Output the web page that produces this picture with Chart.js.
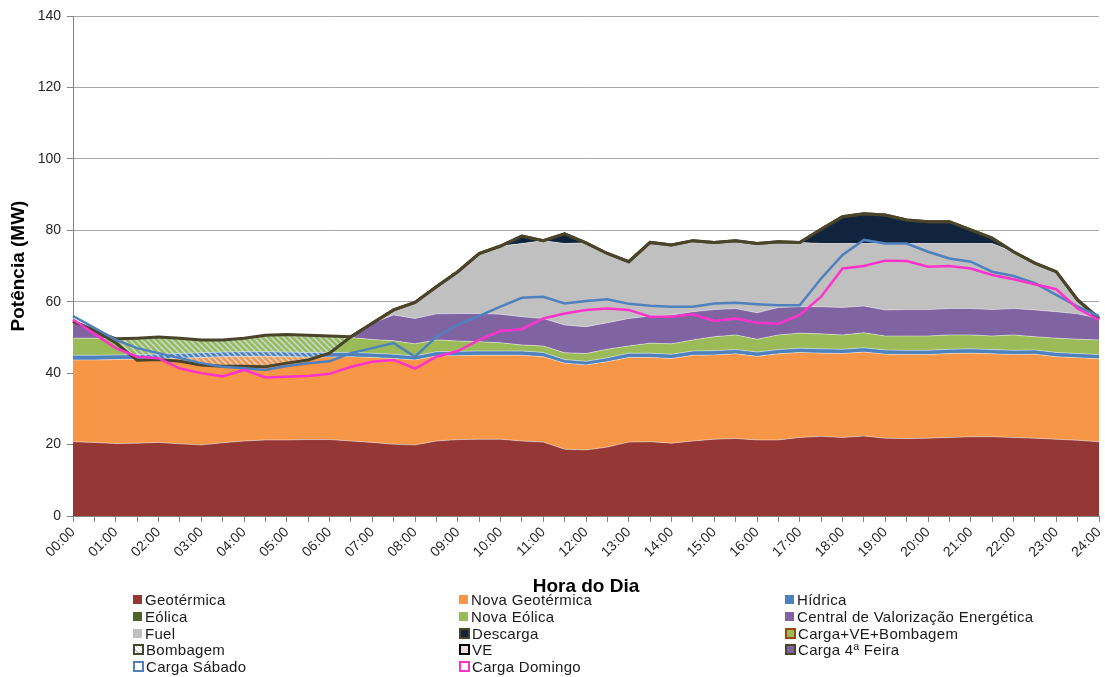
<!DOCTYPE html>
<html lang="pt">
<head>
<meta charset="utf-8">
<title>Potência por hora do dia</title>
<script src="https://cdn.jsdelivr.net/npm/chart.js@4.4.1/dist/chart.umd.min.js"></script>
<style>
  body { margin: 0; background: #fff; font-family: "Liberation Sans", Arial, sans-serif; }
  #wrap { position: relative; width: 1105px; height: 677px; }
  #legend { position: absolute; left: 0; top: 0; width: 1105px; height: 677px; pointer-events: none; }
  .item { position: absolute; display: flex; align-items: center; height: 17px; font-size: 15px; letter-spacing: 0.3px; color: #1a1a1a; white-space: nowrap; }
  .box { width: 9px; height: 9px; margin-right: 3px; box-sizing: border-box; }
</style>
</head>
<body>
<div id="wrap">
  <canvas id="chart" width="1105" height="677"></canvas>
  <div id="legend"></div>
</div>
<script>
const horas = ['00:00','00:30','01:00','01:30','02:00','02:30','03:00','03:30','04:00','04:30',
  '05:00','05:30','06:00','06:30','07:00','07:30','08:00','08:30','09:00','09:30',
  '10:00','10:30','11:00','11:30','12:00','12:30','13:00','13:30','14:00','14:30',
  '15:00','15:30','16:00','16:30','17:00','17:30','18:00','18:30','19:00','19:30',
  '20:00','20:30','21:00','21:30','22:00','22:30','23:00','23:30','24:00'];

// produção (MW), empilhada
const geotermica = [20.8, 20.6, 20.3, 20.4, 20.6, 20.2, 19.9, 20.5, 21.0, 21.3,
  21.3, 21.4, 21.4, 21.0, 20.6, 20.1, 19.9, 21.0, 21.4, 21.5,
  21.5, 21.0, 20.7, 18.7, 18.5, 19.3, 20.7, 20.8, 20.4, 21.0,
  21.5, 21.7, 21.3, 21.3, 22.0, 22.3, 22.0, 22.4, 21.8, 21.7,
  21.8, 22.0, 22.2, 22.2, 22.0, 21.8, 21.5, 21.2, 20.8];
const novaGeotermica = [22.9, 23.1, 23.5, 23.5, 23.4, 24.0, 24.5, 24.1, 23.7, 23.4,
  23.3, 23.1, 23.1, 23.6, 23.8, 24.0, 23.8, 23.8, 23.5, 23.5,
  23.5, 24.0, 23.9, 24.1, 23.8, 23.9, 23.7, 23.6, 23.7, 24.0,
  23.6, 23.7, 23.4, 24.1, 23.8, 23.3, 23.5, 23.5, 23.5, 23.5,
  23.4, 23.5, 23.4, 23.2, 23.2, 23.5, 23.1, 23.1, 23.2];
const hidrica = [1.3, 1.3, 1.3, 1.3, 1.3, 1.3, 1.3, 1.3, 1.3, 1.3,
  1.3, 1.3, 1.3, 1.2, 1.2, 1.2, 1.1, 1.2, 1.2, 1.2,
  1.2, 1.2, 1.2, 1.0, 1.0, 1.1, 1.2, 1.2, 1.2, 1.2,
  1.2, 1.2, 1.2, 1.2, 1.2, 1.2, 1.2, 1.2, 1.2, 1.2,
  1.2, 1.2, 1.2, 1.2, 1.2, 1.2, 1.2, 1.2, 1.2];
const eolica = [0, 0, 0, 0, 0, 0, 0, 0, 0, 0,
  0, 0, 0, 0, 0, 0, 0, 0, 0, 0,
  0, 0, 0, 0, 0, 0, 0, 0, 0, 0,
  0, 0, 0, 0, 0, 0, 0, 0, 0, 0,
  0, 0, 0, 0, 0, 0, 0, 0, 0];
const novaEolica = [4.8, 4.8, 4.5, 4.6, 4.8, 4.3, 3.6, 3.4, 3.8, 4.6,
  4.9, 4.8, 4.6, 4.2, 3.8, 3.8, 3.4, 3.3, 2.9, 2.6,
  2.3, 1.7, 1.8, 1.9, 2.2, 2.4, 2.0, 2.8, 2.9, 3.1,
  3.9, 4.1, 3.6, 4.1, 4.2, 4.2, 4.0, 4.2, 3.9, 4.0,
  4.0, 4.0, 3.9, 3.8, 4.3, 3.7, 4.0, 4.0, 4.1];
const valorizacao = [4.7, 2.2, 0, 0, 0, 0, 0, 0, 0, 0,
  0, 0, 0, 0.2, 4.6, 7.2, 7.1, 7.3, 7.7, 7.9,
  8.0, 7.9, 7.7, 7.8, 7.5, 7.4, 7.7, 7.6, 8.1, 7.9,
  7.6, 7.4, 7.4, 7.7, 7.4, 7.6, 7.7, 7.5, 7.3, 7.4,
  7.4, 7.4, 7.4, 7.4, 7.4, 7.5, 7.4, 7.1, 6.0];
const fuel = [0, 0, 0, 0, 0, 0, 0, 0, 0, 0,
  0, 0, 0, 0, 0, 1.4, 4.5, 7.6, 11.7, 16.8,
  19.1, 20.5, 21.8, 22.8, 23.5, 19.4, 15.9, 20.6, 19.6, 19.9,
  18.8, 19.0, 19.4, 18.4, 18.0, 17.7, 17.9, 17.5, 18.6, 18.5,
  18.5, 18.2, 18.2, 18.5, 15.9, 13.1, 11.2, 3.9, 0];
const descarga = [0, 0, 0, 0, 0, 0, 0, 0, 0, 0,
  0, 0, 0, 0, 0, 0, 0, 0, 0, 0,
  0, 2.1, 0, 2.7, 0, 0, 0, 0, 0, 0,
  0, 0, 0, 0, 0, 4.0, 7.5, 8.3, 8.0, 6.6,
  6.1, 6.1, 3.8, 1.5, 0, 0, 0, 0, 0];

// consumo (MW)
const carga4Feira = [54.5, 52.0, 48.5, 43.6, 43.8, 43.3, 42.3, 41.9, 41.9, 41.8,
  42.8, 43.7, 45.6, 50.2, 54.0, 57.7, 59.8, 64.2, 68.4, 73.5,
  75.6, 78.4, 77.1, 79.0, 76.5, 73.5, 71.2, 76.6, 75.9, 77.1,
  76.6, 77.1, 76.3, 76.8, 76.6, 80.3, 83.8, 84.6, 84.3, 82.9,
  82.4, 82.4, 80.1, 77.8, 74.0, 70.8, 68.4, 60.5, 55.3];
const bombagem = [0, 0, 1.1, 6.2, 6.3, 6.5, 7.0, 7.4, 7.9, 8.8,
  8.0, 6.9, 4.8, 0, 0, 0, 0, 0, 0, 0,
  0, 0, 0, 0, 0, 0, 0, 0, 0, 0,
  0, 0, 0, 0, 0, 0, 0, 0, 0, 0,
  0, 0, 0, 0, 0, 0, 0, 0, 0];
const ve = [0, 0, 0, 0, 0, 0, 0, 0, 0, 0,
  0, 0, 0, 0, 0, 0, 0, 0, 0, 0,
  0, 0, 0, 0, 0, 0, 0, 0, 0, 0,
  0, 0, 0, 0, 0, 0, 0, 0, 0, 0,
  0, 0, 0, 0, 0, 0, 0, 0, 0];
const cargaSabado = [56.0, 52.7, 49.3, 47.0, 45.6, 44.2, 42.8, 41.8, 41.4, 40.9,
  42.0, 42.8, 43.3, 45.6, 47.0, 48.4, 44.6, 50.2, 53.5, 56.0,
  58.6, 61.1, 61.4, 59.5, 60.2, 60.7, 59.4, 58.9, 58.6, 58.6,
  59.5, 59.7, 59.3, 59.0, 59.0, 66.5, 73.1, 77.3, 76.3, 76.3,
  74.0, 72.1, 71.2, 68.4, 67.2, 65.2, 61.9, 58.6, 56.0];
const cargaDomingo = [55.0, 51.0, 47.0, 44.6, 44.2, 41.3, 40.0, 39.1, 40.9, 38.8,
  39.0, 39.2, 39.8, 41.8, 43.2, 43.7, 41.3, 44.6, 46.2, 49.3,
  51.8, 52.3, 55.3, 56.7, 57.7, 58.1, 57.7, 55.8, 55.8, 56.5,
  54.6, 55.3, 54.1, 53.8, 56.3, 61.4, 69.3, 70.0, 71.5, 71.4,
  69.8, 70.0, 69.3, 67.5, 66.3, 64.9, 63.5, 58.1, 54.9];

const FONT = '"Liberation Sans", Arial, sans-serif';
const canvas = document.getElementById('chart');

// tracejado da bombagem
function makeHatch(ctx) {
  const tile = document.createElement('canvas');
  tile.width = 6;
  tile.height = 6;
  const g = tile.getContext('2d');
  g.strokeStyle = 'rgba(205,226,246,0.85)';
  g.lineWidth = 1.5;
  g.beginPath();
  g.moveTo(-1, -1); g.lineTo(7, 7);
  g.moveTo(-1, 5); g.lineTo(1, 7);
  g.moveTo(5, -1); g.lineTo(7, 1);
  g.stroke();
  return ctx.createPattern(tile, 'repeat');
}

function area(label, data, color, fill) {
  return {
    label, data,
    backgroundColor: color,
    borderColor: 'rgba(255,255,255,0.55)',
    borderWidth: 0.8,
    fill: fill || '-1',
    pointRadius: 0,
    stack: 'producao',
    order: 10,
    legendBox: { fill: color }
  };
}

const cargaTotal = carga4Feira.map((v, i) => v + ve[i] + bombagem[i]);

const datasets = [
  area('Geotérmica', geotermica, '#953735', 'origin'),
  area('Nova Geotérmica', novaGeotermica, '#F79646'),
  area('Hídrica', hidrica, '#4F81BD'),
  Object.assign(area('Eólica', eolica, '#4F6228'), { borderWidth: 0 }),
  area('Nova Eólica', novaEolica, '#9BBB59'),
  area('Central de Valorização Energética', valorizacao, '#8064A2'),
  area('Fuel', fuel, '#C0C0C0'),
  Object.assign(area('Descarga', descarga, '#10243E'), { legendBox: { fill: '#10243E', border: '#4A452A' } }),
  {
    label: 'Carga+VE+Bombagem', data: cargaTotal, borderWidth: 0, pointRadius: 0,
    fill: false, stack: 'total', order: 5,
    legendBox: { fill: '#9BBB59', border: '#984807' }
  },
  {
    label: 'Bombagem', data: bombagem, borderColor: '#4A452A', borderWidth: 3,
    backgroundColor: makeHatch(canvas.getContext('2d')), fill: { target: 11 },
    pointRadius: 0, stack: 'carga', order: 4,
    legendBox: { fill: 'repeating-linear-gradient(45deg, #fff 0 2px, #b9d3ee 2px 3px)', border: '#4A452A' }
  },
  {
    label: 'VE', data: ve, borderWidth: 0, pointRadius: 0, fill: false,
    stack: 'carga', order: 3,
    legendBox: { fill: '#F2DCDB', border: '#000' }
  },
  {
    label: 'Carga 4ª Feira', data: carga4Feira, borderColor: '#4A452A', borderWidth: 3,
    pointRadius: 0, fill: false, stack: 'carga', order: 3,
    legendBox: { fill: '#8064A2', border: '#4A452A' }
  },
  {
    label: 'Carga Sábado', data: cargaSabado, borderColor: '#4F81BD', borderWidth: 2.5,
    pointRadius: 0, fill: false, stack: 'sabado', order: 2,
    legendBox: { fill: '#fff', border: '#4F81BD' }
  },
  {
    label: 'Carga Domingo', data: cargaDomingo, borderColor: '#FF33CC', borderWidth: 2.5,
    pointRadius: 0, fill: false, stack: 'domingo', order: 1,
    legendBox: { fill: '#fff', border: '#FF33CC' }
  }
];

const chart = new Chart(canvas, {
  type: 'line',
  data: { labels: horas, datasets },
  options: {
    responsive: false,
    animation: false,
    devicePixelRatio: 1,
    layout: { padding: { top: 16, right: 6, left: 0, bottom: 0 } },
    elements: { line: { tension: 0 } },
    plugins: { legend: { display: false }, tooltip: { enabled: false } },
    scales: {
      x: {
        offset: false,
        grid: { drawOnChartArea: false, drawTicks: true, tickLength: 6, tickColor: '#868686' },
        border: { color: '#868686' },
        ticks: {
          autoSkip: false, minRotation: 45, maxRotation: 45, padding: 2,
          color: '#262626', font: { family: FONT, size: 14 },
          callback: (v, i) => (i % 2 === 0 ? horas[i] : '')
        },
        title: {
          display: true, text: 'Hora do Dia', color: '#000',
          font: { family: FONT, size: 19, weight: 'bold' },
          padding: { top: 0, bottom: 79 }
        },
        afterFit: s => { s.height = 161; s.paddingLeft = 0; s.paddingRight = 0; }
      },
      y: {
        stacked: true,
        min: 0, max: 140,
        grid: { color: '#a6a6a6', drawTicks: true, tickLength: 6, tickColor: '#868686' },
        border: { color: '#868686' },
        ticks: { stepSize: 20, padding: 6, color: '#262626', font: { family: FONT, size: 14 } },
        title: {
          display: true, text: 'Potência (MW)', color: '#000',
          font: { family: FONT, size: 19, weight: 'bold' },
          padding: { top: 7, bottom: 0 }
        },
        afterFit: s => { s.width = 73; s.paddingTop = 0; s.paddingBottom = 0; }
      }
    }
  }
});

// legenda em três colunas
function renderLegend(chart) {
  const box = document.getElementById('legend');
  const cols = [133, 459, 785];
  chart.data.datasets.forEach((ds, i) => {
    const item = document.createElement('div');
    item.className = 'item';
    item.style.left = cols[i % 3] + 'px';
    item.style.top = (591 + Math.floor(i / 3) * 16.8) + 'px';
    const sw = document.createElement('span');
    sw.className = 'box';
    const lb = ds.legendBox;
    sw.style.background = lb.fill;
    if (lb.border) {
      sw.style.width = '11px';
      sw.style.height = '11px';
      sw.style.border = '2px solid ' + lb.border;
      sw.style.marginRight = '2px';
    }
    item.appendChild(sw);
    item.appendChild(document.createTextNode(ds.label));
    box.appendChild(item);
  });
}

renderLegend(chart);
</script>
</body>
</html>
